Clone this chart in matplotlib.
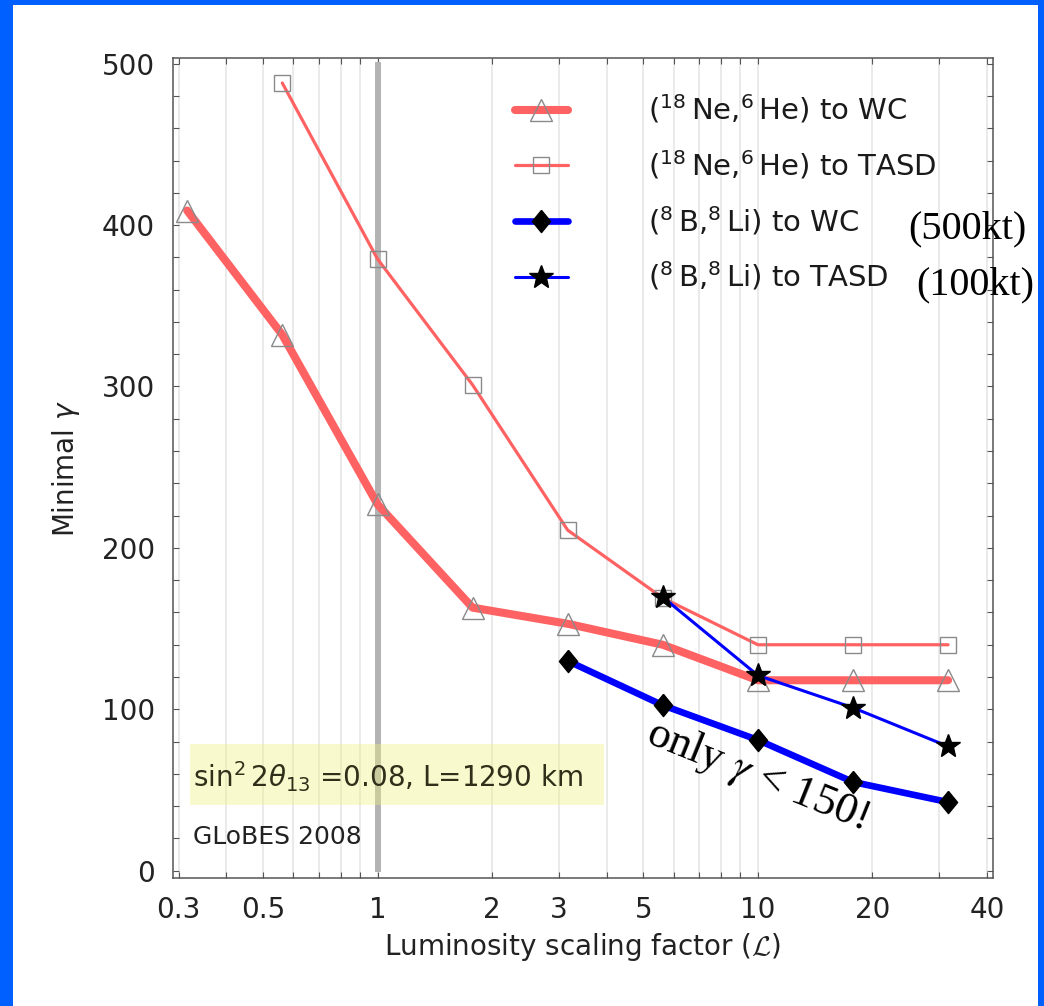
import matplotlib
matplotlib.use("Agg")
import matplotlib.pyplot as plt
from matplotlib.patches import Rectangle
from matplotlib.ticker import FixedLocator, FixedFormatter, NullFormatter, MultipleLocator

# ---- data -------------------------------------------------------------
# luminosity scaling factors, quarter-decade steps
lum = [0.316, 0.562, 1.0, 1.778, 3.162, 5.623, 10.0, 17.78, 31.62]

# minimal gamma for each setup
ne_he_wc = [409, 332, 227, 163, 153, 140, 118, 118, 118]
ne_he_tasd = [488, 379, 301, 211, 169, 140, 140, 140]
b_li_wc = [130, 102.5, 81, 55, 42.5]
b_li_tasd = [169.5, 121, 101, 77]

series_labels = [
    r"($^{18}\,$Ne,$^{6}\,$He) to WC",
    r"($^{18}\,$Ne,$^{6}\,$He) to TASD",
    r"($^{8}\,$B,$^{8}\,$Li) to WC",
    r"($^{8}\,$B,$^{8}\,$Li) to TASD",
]

x_major = [0.3, 0.5, 1, 2, 3, 5, 10, 20, 40]
x_major_labels = ["0.3", "0.5", "1", "2", "3", "5", "10", "20", "40"]
x_minor = [0.4, 0.6, 0.7, 0.8, 0.9, 4, 6, 7, 8, 9, 30]

ref_lum = 1.0
ref_span = (-1, 501)

# ---- style -------------------------------------------------------------
plt.rcParams["font.family"] = ["DejaVu Sans"]
plt.rcParams["mathtext.fontset"] = "dejavusans"

RED = "#ff6262"
BLUE = "#0000ff"
GREY_EDGE = "#8a8a8a"
W, H = 1044, 1006

fig = plt.figure(figsize=(W / 100, H / 100), dpi=100)
fig.patch.set_facecolor("#0060ff")
fig.patches.append(Rectangle((13 / W, 0), (1038 - 13) / W, (H - 5) / H,
                             transform=fig.transFigure, facecolor="white",
                             edgecolor="none", zorder=-10))

ax = fig.add_axes([173 / W, 1 - 878 / H, 820 / W, 820 / H])
ax.set_xscale("log")
ax.set_facecolor("none")

# reference line at nominal luminosity
ax.vlines(ref_lum, ref_span[0], ref_span[1], color="#b3b3b3", lw=4.3, zorder=1.5)

diamond = [(0, 1), (0.82, 0), (0, -1), (-0.82, 0), (0, 1)]

h1, = ax.plot(lum, ne_he_wc, color=RED, lw=5.8, solid_capstyle="round",
              marker="^", ms=16, mfc="none", mec=GREY_EDGE, mew=1.0, zorder=2)
h2, = ax.plot(lum[1:], ne_he_tasd, color=RED, lw=2.3, solid_capstyle="round",
              marker="s", ms=12, mfc="none", mec=GREY_EDGE, mew=1.0, zorder=2.2)
h3, = ax.plot(lum[4:], b_li_wc, color=BLUE, lw=4.8, solid_capstyle="round",
              marker=diamond, ms=16, mfc="black", mec="black", zorder=3)
h4, = ax.plot(lum[5:], b_li_tasd, color=BLUE, lw=2.2, solid_capstyle="round",
              marker="*", ms=18, mfc="black", mec="black", zorder=3.2)

ax.set_xlim(0.29, 41.5)
ax.set_ylim(-4.5, 503.5)

ax.xaxis.set_major_locator(FixedLocator(x_major))
ax.xaxis.set_major_formatter(FixedFormatter(x_major_labels))
ax.xaxis.set_minor_locator(FixedLocator(x_minor))
ax.xaxis.set_minor_formatter(NullFormatter())
ax.yaxis.set_major_locator(MultipleLocator(100))
ax.yaxis.set_minor_locator(MultipleLocator(20))

ax.tick_params(which="both", direction="in", top=True, right=True,
               length=4, width=0.8, color="#555555")
ax.tick_params(which="major", labelsize=20, pad=13, labelcolor="#222222")

ax.grid(True, which="both", axis="x", color="#e6e6e6", lw=1.2)
ax.set_axisbelow(True)
for s in ax.spines.values():
    s.set_color("#555555")
    s.set_linewidth(1.1)

ax.set_xlabel(r"Luminosity scaling factor ($\mathcal{L}$)", fontsize=20,
              color="#222222", labelpad=5, math_fontfamily="cm")
ax.set_ylabel(r"Minimal $\gamma$", fontsize=20, color="#222222", labelpad=14)

leg = ax.legend([h1, h2, h3, h4], series_labels, loc="center left",
                bbox_to_anchor=(515 / W, 1 - 193 / H), bbox_transform=fig.transFigure,
                frameon=False, fontsize=21, handlelength=1.8, handletextpad=2.75,
                labelspacing=0.78, borderpad=0, borderaxespad=0, numpoints=1)
for t in leg.get_texts():
    t.set_color("#1a1a1a")

# parameter box
ax.add_patch(Rectangle((0.0207, 0.089), 0.5049, 0.0744, transform=ax.transAxes,
                       facecolor="#f0f080", alpha=0.38, edgecolor="none", zorder=6))
ax.text(0.0244, 0.123, r"$\sin^2 2\theta_{13}$ =0.08, L=1290 km",
        transform=ax.transAxes, fontsize=20, ha="left", va="center",
        color="#30301a", zorder=7)
ax.text(0.0244, 0.05, "GLoBES 2008", transform=ax.transAxes, fontsize=18,
        ha="left", va="center", color="#222222")

# handwritten-style annotations
fig.text(967 / W, 1 - 229 / H, "(500kt)", fontsize=29, family="Liberation Serif",
         ha="center", va="center")
fig.text(975 / W, 1 - 285 / H, "(100kt)", fontsize=29, family="Liberation Serif",
         ha="center", va="center")
fig.text(757 / W, 1 - 776 / H, r"only $\gamma$ < 150!", fontsize=32,
         family="Liberation Serif", math_fontfamily="stix", rotation=-22,
         rotation_mode="anchor", ha="center", va="center")

fig.savefig("out.png", dpi=100, facecolor=fig.get_facecolor())
